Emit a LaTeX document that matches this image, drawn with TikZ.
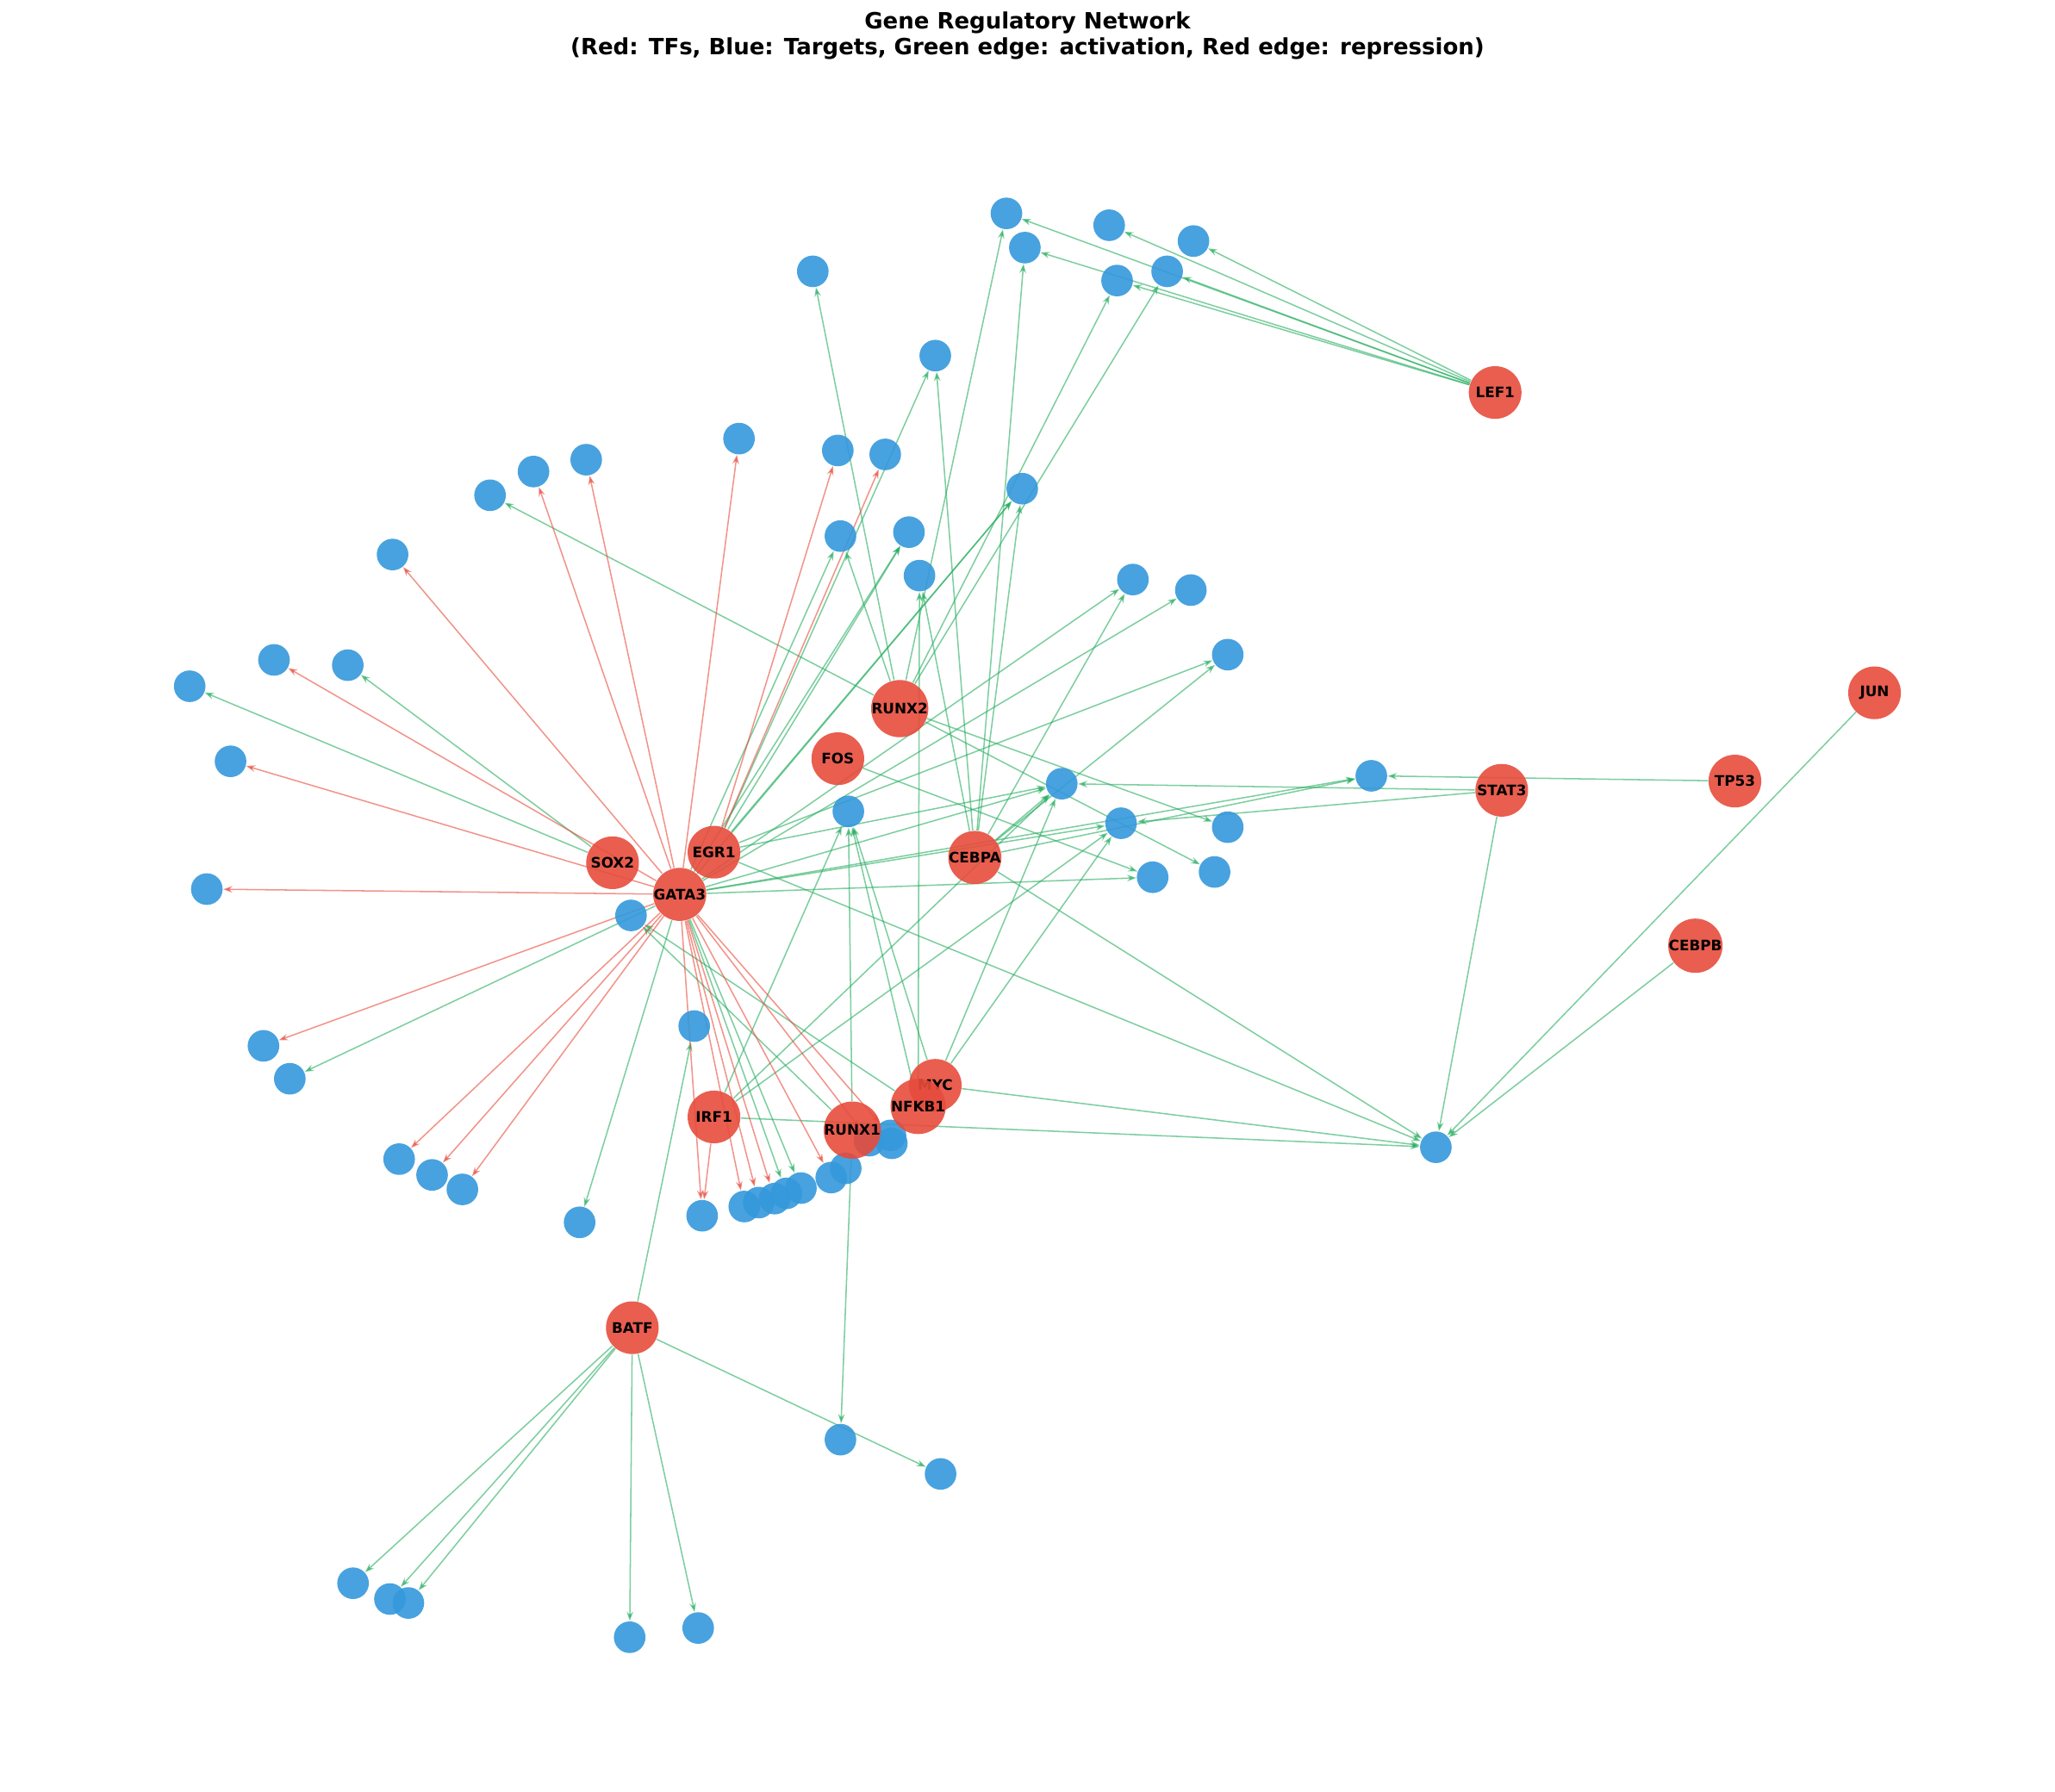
\documentclass[tikz,border=0pt]{standalone}
\usepackage{fontspec}
\setmainfont{DejaVu Sans}
\usetikzlibrary{arrows.meta,backgrounds}
\definecolor{tfred}{HTML}{E74C3C}
\definecolor{tgblue}{HTML}{3498DB}
\definecolor{actgreen}{HTML}{2ECC71}
\tikzset{
  tf/.style={circle, fill=tfred, fill opacity=0.9, text opacity=1, minimum size=20pt, inner sep=0pt, font=\fontsize{5.5}{6}\selectfont\bfseries},
  tg/.style={circle, fill=tgblue, fill opacity=0.9, minimum size=12pt, inner sep=0pt},
  act/.style={draw=actgreen!85!black, opacity=0.6, line width=0.5pt, -{Stealth[length=3.5pt,width=2.5pt]}},
  rep/.style={draw=tfred, opacity=0.6, line width=0.5pt, -{Stealth[length=3.5pt,width=2.5pt]}}
}
\begin{document}
\begin{tikzpicture}[x=0.5pt,y=-0.5pt]
  \useasboundingbox (0,0) rectangle (1560,1360);
  % Titulo
  \node[font=\fontsize{8.5}{10}\selectfont\bfseries, align=center] (title) at (780,27)
    {Gene Regulatory Network\\(Red: TFs, Blue: Targets, Green edge: activation, Red edge: repression)};
  % Genes diana
  \foreach \n/\x/\y in {a/764/162, b/842/171, c/906/183, d/778/188, e/848/213, f/886/206,
    g/617/206, h/710/270, i/561/333, j/636/342, k/672/345, l/405/358, m/445/349, n/372/376,
    o/776/371, p/638/407, q/690/404, r/698/437, s/298/421, t/860/440, u/904/448, v/208/501,
    w/264/505, x/144/521, y/932/497, z/175/578, aa/806/595, ab/644/616, ac/1041/589,
    ad/851/625, ae/932/628, af/157/675, ag/875/666, ah/922/662, ai/479/695, aj/527/779,
    ak/200/794, al/220/819, am/303/880, an/328/892, ao/351/903, ap/440/928, aq/533/923,
    ar/565/916, as/576/913, at/588/910, au/597/906, av/608/902, aw/631/894, ax/642/887,
    ay/660/866, az/676/862, ba/677/868, bb/1090/871, bc/638/1093, bd/714/1119,
    be/268/1202, bf/296/1214, bg/310/1217, bh/478/1243, bi/530/1236}
    \node[tg] (\n) at (\x,\y) {};
  % Factores de transcripcion
  \foreach \n/\x/\y in {LEF1/1135/298, JUN/1423/526, TP53/1317/593, STAT3/1140/600,
    CEBPB/1287/718, RUNX2/683/538, FOS/636/576, EGR1/542/647, SOX2/465/655, GATA3/516/679,
    CEBPA/740/651, MYC/710/824, NFKB1/697/840, IRF1/542/848, RUNX1/647/858, BATF/480/1008}
    \node[tf] (\n) at (\x,\y) {\n};
  % Aristas
  \begin{scope}[on background layer]
    \foreach \s/\t in {LEF1/a, LEF1/b, LEF1/c, LEF1/d, LEF1/e, LEF1/f,
      TP53/ac, STAT3/aa, STAT3/ad, STAT3/bb, JUN/bb, CEBPB/bb,
      RUNX2/g, RUNX2/n, RUNX2/e, RUNX2/f, RUNX2/a, RUNX2/p, RUNX2/ae, RUNX2/ah,
      FOS/ag, EGR1/h, EGR1/o, EGR1/q, EGR1/aa, EGR1/bb, EGR1/y, SOX2/x, SOX2/w,
      GATA3/al, GATA3/ap, GATA3/t, GATA3/u, GATA3/ag, GATA3/aa, GATA3/ac, GATA3/p,
      GATA3/q, GATA3/o, GATA3/ad, GATA3/au, GATA3/av,
      CEBPA/d, CEBPA/h, CEBPA/r, CEBPA/o, CEBPA/t, CEBPA/bb, CEBPA/aa, CEBPA/y, CEBPA/ac,
      MYC/aa, MYC/ad, MYC/bb, MYC/ab, NFKB1/ab, NFKB1/ai, NFKB1/r,
      IRF1/aa, IRF1/ad, IRF1/ab, IRF1/bb, RUNX1/ab, RUNX1/bc, RUNX1/ai,
      BATF/aj, BATF/be, BATF/bf, BATF/bg, BATF/bh, BATF/bi, BATF/bd}
      \draw[act] (\s) -- (\t);
    \foreach \s/\t in {GATA3/s, GATA3/v, GATA3/z, GATA3/af, GATA3/ak, GATA3/am, GATA3/an,
      GATA3/ao, GATA3/l, GATA3/m, GATA3/i, GATA3/ar, GATA3/as, GATA3/at, GATA3/aw,
      GATA3/ay, GATA3/az, GATA3/aq, EGR1/j, EGR1/k, IRF1/aq}
      \draw[rep] (\s) -- (\t);
  \end{scope}
\end{tikzpicture}
\end{document}
